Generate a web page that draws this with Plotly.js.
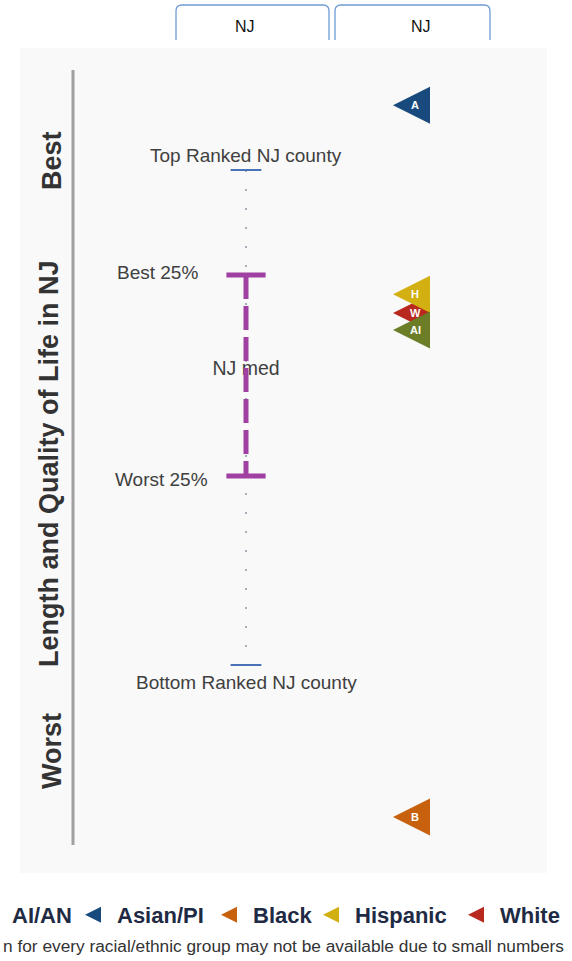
<!DOCTYPE html>
<html><head><meta charset="utf-8">
<script src="https://cdn.plot.ly/plotly-3.0.1.min.js"></script>
<style>html,body{margin:0;padding:0;background:#fff}#chart{width:572px;height:961px}</style>
</head><body><div id="chart"></div>
<script>
// ---- data ----
const groupNames = ['AI/AN', 'Asian/PI', 'Black', 'Hispanic', 'White'];
const groupLetters = ['AI', 'A', 'B', 'H', 'W'];
const groupScores = [67.7, 113.1, -30.7, 74.9, 71.1];
const countyLabels = ['Top Ranked NJ county', 'Best 25%', 'NJ med', 'Worst 25%', 'Bottom Ranked NJ county'];
const countyScores = [100, 78.8, 59.6, 38.2, 0];
const columnLabels = ['NJ', 'NJ'];
const axisTitle = 'Length and Quality of Life in NJ';
const axisEnds = ['Best', 'Worst'];
const footnote = 'n for every racial/ethnic group may not be available due to small numbers';

// ---- styles ----
const groupColors = {'AI/AN':'#6b7d27','Asian/PI':'#184a7d','Black':'#c8610e','Hispanic':'#d2b012','White':'#b8281f'};
const groupLegend = {'AI/AN':'legend','Asian/PI':'legend2','Black':'legend3','Hispanic':'legend4','White':'legend5'};
const legendTextStart = [12, 117, 253, 355, 500];
const drawOrder = ['White', 'Hispanic', 'AI/AN', 'Asian/PI', 'Black'];
const purple = '#a040a2';
const tickBlue = '#4a72b8';
const W = 572, Hh = 961;
const M = {l: 20, r: 25, t: 48, b: 88, autoexpand: false};
const PW = W - M.l - M.r, PH = Hh - M.t - M.b;
const px = p => (p - M.l) / PW;
const py = p => (M.t + PH - p) / PH;

const traces = [];
traces.push({x:[0,0], y:[countyScores[0], countyScores[4]], mode:'lines',
  line:{color:'#8a94a6', width:1.5, dash:'2px,17px'}, showlegend:false, hoverinfo:'skip'});
traces.push({x:[0], y:[countyScores[2]], mode:'text', text:[countyLabels[2]],
  textfont:{family:'Liberation Sans, Arial', size:19.5, color:'#404040'}, textposition:'middle center',
  showlegend:false, hoverinfo:'skip'});
traces.push({x:[0,0], y:[countyScores[1], countyScores[3]], mode:'lines+markers',
  line:{color:purple, width:5, dash:'24px,7px'},
  marker:{symbol:'line-ew-open', size:28, color:purple, line:{color:purple, width:5}},
  showlegend:false, hoverinfo:'skip'});
traces.push({x:[0,0], y:[countyScores[0], countyScores[4]], mode:'markers',
  marker:{symbol:'line-ew-open', size:22, color:tickBlue, line:{color:tickBlue, width:2}},
  showlegend:false, hoverinfo:'skip'});
drawOrder.forEach(name => {
  const i = groupNames.indexOf(name);
  traces.push({x:[1], y:[groupScores[i]], mode:'markers', name:name,
    legend: groupLegend[name],
    marker:{symbol:'arrow-left', size:37, color:groupColors[name], line:{width:0}},
    hoverinfo:'skip'});
});

const annotations = [];
const tf = {family:'Liberation Sans, Arial', size:19, color:'#404040'};
annotations.push({x:0, y:countyScores[0], xref:'x', yref:'y', text:countyLabels[0], showarrow:false, yshift:15, font:tf});
annotations.push({x:0, y:countyScores[1], xref:'x', yref:'y', text:countyLabels[1], showarrow:false, xanchor:'right', xshift:-46, yshift:2, font:tf});
annotations.push({x:0, y:countyScores[3], xref:'x', yref:'y', text:countyLabels[3], showarrow:false, xanchor:'right', xshift:-36, yshift:-4, font:tf});
annotations.push({x:0, y:countyScores[4], xref:'x', yref:'y', text:countyLabels[4], showarrow:false, yshift:-17, font:tf});
groupNames.forEach((name, i) => {
  annotations.push({x:1, y:groupScores[i], xref:'x', yref:'y', text:groupLetters[i], showarrow:false,
    xshift:22, font:{family:'Liberation Sans, Arial', size:11, color:'#ffffff', weight:'bold'}});
});
const lf = {family:'Liberation Sans, Arial', size:27, color:'#333333', weight:'bold'};
function paperText(xp, yp, text, font, extra) {
  return Object.assign({x:px(xp), y:py(yp), xref:'paper', yref:'paper', text:text, showarrow:false,
    xanchor:'center', yanchor:'middle', font:font}, extra || {});
}
annotations.push(paperText(52, 161, axisEnds[0], lf, {textangle:-90}));
annotations.push(paperText(52, 751, axisEnds[1], lf, {textangle:-90}));
annotations.push(paperText(49, 464, axisTitle, lf, {textangle:-90}));
const hf = {family:'Liberation Sans, Arial', size:16, color:'#111'};
annotations.push(paperText(245, 26, columnLabels[0], hf));
annotations.push(paperText(421, 26, columnLabels[1], hf));
annotations.push(paperText(566, 946, footnote, {family:'Liberation Sans, Arial', size:17.3, color:'#333'}, {xanchor:'right'}));

function hdrPath(x0, x1, yTop, yBot, r) {
  return 'M' + px(x0) + ',' + py(yBot) + ' L' + px(x0) + ',' + py(yTop + r) +
    ' Q' + px(x0) + ',' + py(yTop) + ' ' + px(x0 + r) + ',' + py(yTop) +
    ' L' + px(x1 - r) + ',' + py(yTop) +
    ' Q' + px(x1) + ',' + py(yTop) + ' ' + px(x1) + ',' + py(yTop + r) +
    ' L' + px(x1) + ',' + py(yBot);
}
const shapes = [
  {type:'path', xref:'paper', yref:'paper', path:hdrPath(176, 329, 5, 40, 6), line:{color:'#6f9bd4', width:1.3}},
  {type:'path', xref:'paper', yref:'paper', path:hdrPath(335, 490, 5, 40, 6), line:{color:'#6f9bd4', width:1.3}},
  {type:'line', xref:'paper', yref:'paper', x0:px(73), x1:px(73), y0:py(70), y1:py(845), line:{color:'#a0a0a0', width:3}}
];

const legFont = {family:'Liberation Sans, Arial', size:22, color:'#1f2a44', weight:'bold'};
const legItemWidth = 54;
function legendAt(textStartPx) {
  return {orientation:'h', x:px(textStartPx - (legItemWidth + 10)), xanchor:'left', y:py(915), yanchor:'middle',
    font:legFont, bgcolor:'rgba(0,0,0,0)', itemsizing:'trace', itemwidth:legItemWidth, borderwidth:0};
}

const layout = {
  width: W, height: Hh, margin: M,
  paper_bgcolor:'#ffffff', plot_bgcolor:'#f9f9f9',
  xaxis:{range:[-226/147, 1 + 154/147], visible:false, fixedrange:true},
  yaxis:{range:[(665 - (M.t + PH)) / 4.95, (665 - M.t) / 4.95], visible:false, fixedrange:true},
  showlegend:true,
  legend: legendAt(legendTextStart[0]),
  legend2: legendAt(legendTextStart[1]),
  legend3: legendAt(legendTextStart[2]),
  legend4: legendAt(legendTextStart[3]),
  legend5: legendAt(legendTextStart[4]),
  annotations: annotations, shapes: shapes
};
Plotly.newPlot('chart', traces, layout, {staticPlot:true});
</script></body></html>
